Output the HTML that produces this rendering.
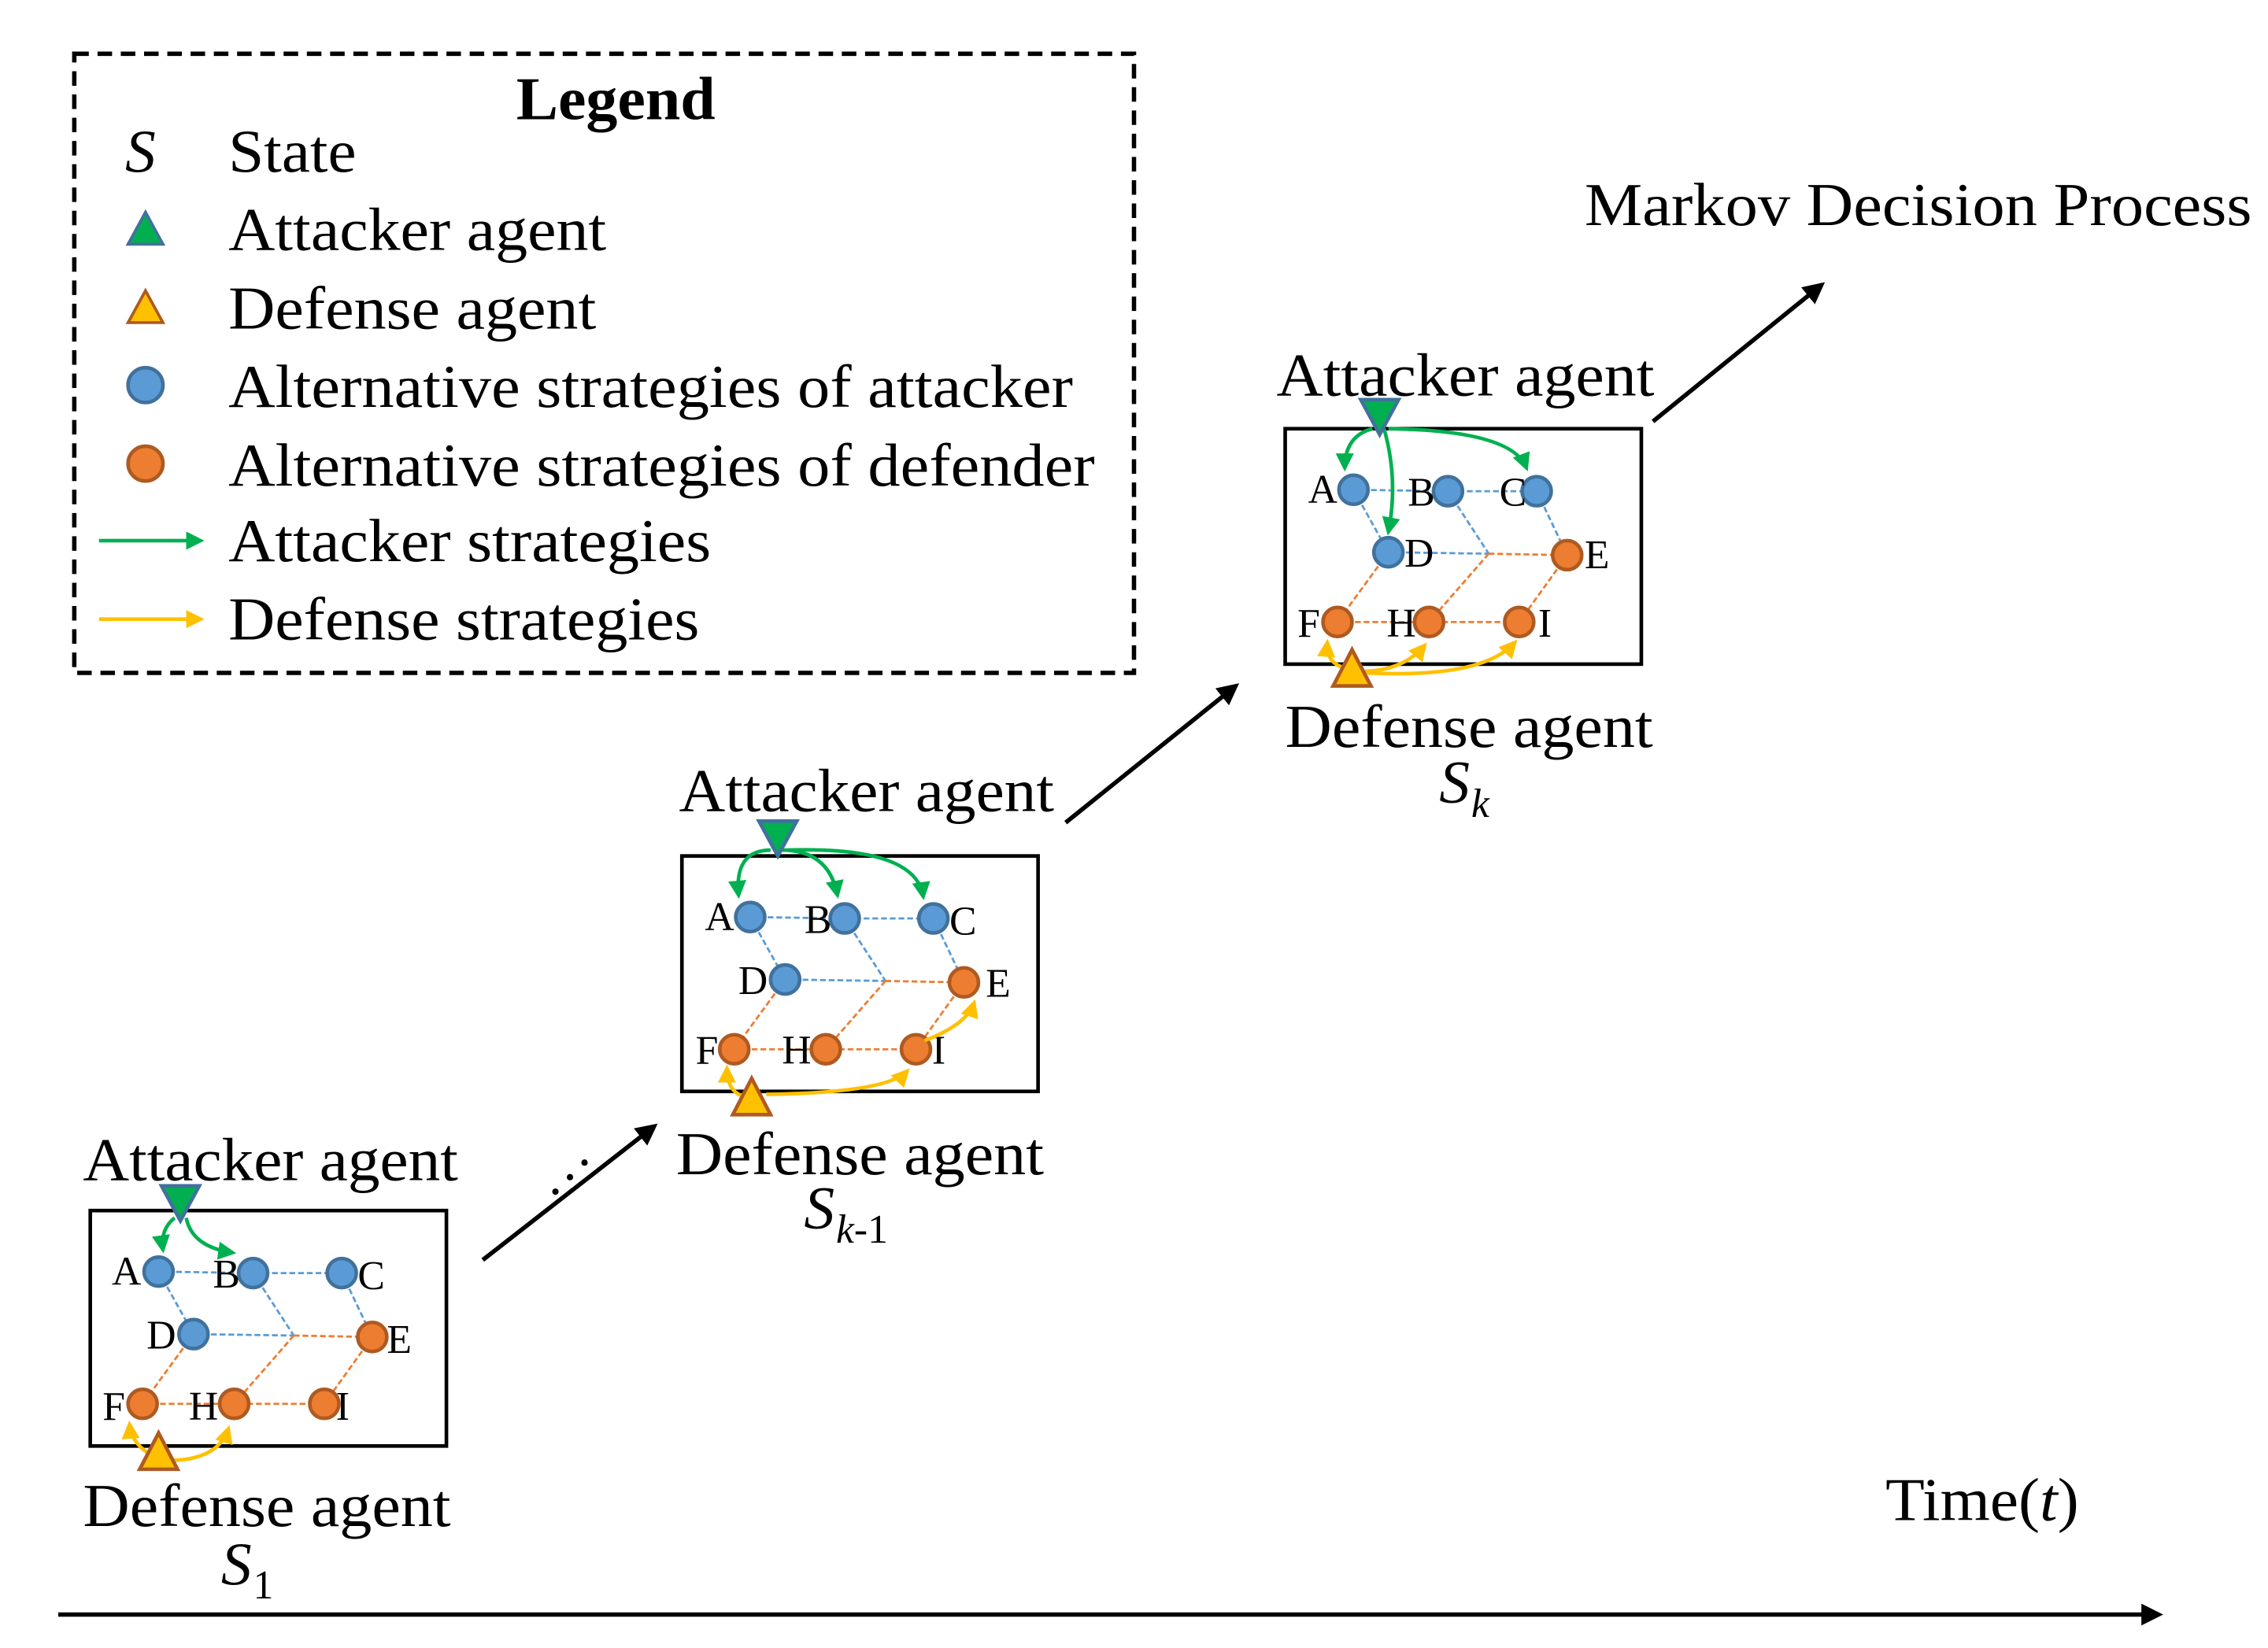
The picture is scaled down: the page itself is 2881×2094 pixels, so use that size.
<!DOCTYPE html>
<html><head><meta charset="utf-8"><style>
html,body{margin:0;padding:0;background:#fff;}
svg{display:block;}
text{font-family:"Liberation Serif",serif;fill:#000;}
</style></head><body>
<svg width="2881" height="2094" viewBox="0 0 1560 1134" xmlns="http://www.w3.org/2000/svg">
<defs>
<marker id="ag" viewBox="0 0 10 10" refX="8" refY="5" markerWidth="5" markerHeight="5" orient="auto"><path d="M0,0 L10,5 L0,10 z" fill="#00B050"/></marker>
<marker id="ay" viewBox="0 0 10 10" refX="8" refY="5" markerWidth="5" markerHeight="5" orient="auto"><path d="M0,0 L10,5 L0,10 z" fill="#FFC000"/></marker>
<marker id="ak" viewBox="0 0 10 10" refX="8" refY="5" markerWidth="5" markerHeight="5" orient="auto"><path d="M0,0 L10,5 L0,10 z" fill="#000"/></marker>
<g id="graph">
<rect x="0" y="0" width="245" height="162" fill="none" stroke="#000" stroke-width="2.5"/>
<g stroke="#5B9BD5" stroke-width="1.5" stroke-dasharray="4,2" fill="none">
<path d="M47,42 L112,43 L173,43"/><path d="M47,42 L71,85"/><path d="M112,43 L140,86"/><path d="M173,43 L194,87"/><path d="M71,85 L140,86"/>
</g>
<g stroke="#ED7D31" stroke-width="1.5" stroke-dasharray="4,2" fill="none">
<path d="M140,86 L194,87"/><path d="M71,85 L36,133"/><path d="M140,86 L99,133"/><path d="M194,87 L161,133"/><path d="M36,133 L99,133 L161,133"/>
</g>
<g fill="#5B9BD5" stroke="#41719C" stroke-width="2.5">
<circle cx="47" cy="42" r="10"/><circle cx="112" cy="43" r="10"/><circle cx="173" cy="43" r="10"/><circle cx="71" cy="85" r="10"/>
</g>
<g fill="#ED7D31" stroke="#AE5A21" stroke-width="2.5">
<circle cx="194" cy="87" r="10"/><circle cx="36" cy="133" r="10"/><circle cx="99" cy="133" r="10"/><circle cx="161" cy="133" r="10"/>
</g>
</g>
</defs>

<!-- Legend -->
<rect x="51" y="37" width="729" height="426" fill="none" stroke="#000" stroke-width="3" stroke-dasharray="10,6"/>
<text x="355" y="82" font-size="42" font-weight="bold" textLength="137" lengthAdjust="spacingAndGlyphs">Legend</text>
<text x="86" y="118" font-size="42" font-style="italic">S</text>
<text x="157" y="118" font-size="42" textLength="88" lengthAdjust="spacingAndGlyphs">State</text>
<polygon points="100,146 88,168 112,168" fill="#00B050" stroke="#41719C" stroke-width="2"/>
<text x="157" y="172" font-size="42" textLength="260" lengthAdjust="spacingAndGlyphs">Attacker agent</text>
<polygon points="100,200 88,222 112,222" fill="#FFC000" stroke="#AE5A21" stroke-width="2"/>
<text x="157" y="226" font-size="42" textLength="253" lengthAdjust="spacingAndGlyphs">Defense agent</text>
<circle cx="100" cy="265" r="12" fill="#5B9BD5" stroke="#41719C" stroke-width="2.5"/>
<text x="157" y="280" font-size="42" textLength="581" lengthAdjust="spacingAndGlyphs">Alternative strategies of attacker</text>
<circle cx="100" cy="319" r="12" fill="#ED7D31" stroke="#AE5A21" stroke-width="2.5"/>
<text x="157" y="334" font-size="42" textLength="596" lengthAdjust="spacingAndGlyphs">Alternative strategies of defender</text>
<line x1="68" y1="372" x2="138" y2="372" stroke="#00B050" stroke-width="2.5" marker-end="url(#ag)"/>
<text x="157" y="386" font-size="42" textLength="332" lengthAdjust="spacingAndGlyphs">Attacker strategies</text>
<line x1="68" y1="426" x2="138" y2="426" stroke="#FFC000" stroke-width="2.5" marker-end="url(#ay)"/>
<text x="157" y="440" font-size="42" textLength="324" lengthAdjust="spacingAndGlyphs">Defense strategies</text>

<!-- S1 -->
<use href="#graph" transform="translate(62,833)"/>
<g font-size="28">
<text x="97" y="884" text-anchor="end">A</text><text x="165" y="886" text-anchor="end">B</text><text x="246" y="887">C</text>
<text x="121" y="928" text-anchor="end">D</text><text x="266" y="931">E</text>
<text x="86" y="977" text-anchor="end">F</text><text x="150" y="977" text-anchor="end">H</text><text x="231" y="977">I</text>
</g>
<g fill="none" stroke-width="2.5">
<path d="M120,838 Q110,846 112,860" stroke="#00B050" marker-end="url(#ag)"/>
<path d="M128,838 Q132,858 160,862" stroke="#00B050" marker-end="url(#ag)"/>
<path d="M102,1000 Q90,992 89,980" stroke="#FFC000" marker-end="url(#ay)"/>
<path d="M115,1005 Q150,1005 157,983" stroke="#FFC000" marker-end="url(#ay)"/>
</g>
<polygon points="111,816 137,816 124,840" fill="#00B050" stroke="#41719C" stroke-width="2.5"/>
<polygon points="109,986 96,1011 122,1011" fill="#FFC000" stroke="#AE5A21" stroke-width="2.5"/>
<text x="57" y="812" font-size="42" textLength="258" lengthAdjust="spacingAndGlyphs">Attacker agent</text>
<text x="57" y="1050" font-size="42" textLength="253" lengthAdjust="spacingAndGlyphs">Defense agent</text>
<text x="152" y="1090" font-size="42" font-style="italic">S</text><text x="174" y="1100" font-size="28">1</text>

<!-- Sk-1 -->
<use href="#graph" transform="translate(469,589)"/>
<g font-size="28">
<text x="505" y="640" text-anchor="end">A</text><text x="572" y="642" text-anchor="end">B</text><text x="653" y="643">C</text>
<text x="528" y="684" text-anchor="end">D</text><text x="678" y="686">E</text>
<text x="494" y="732" text-anchor="end">F</text><text x="558" y="732" text-anchor="end">H</text><text x="641" y="732">I</text>
</g>
<g fill="none" stroke-width="2.5">
<path d="M530,585 Q505,585 508,616" stroke="#00B050" marker-end="url(#ag)"/>
<path d="M538,585 Q570,585 576,616" stroke="#00B050" marker-end="url(#ag)"/>
<path d="M541,585 Q630,582 635,617" stroke="#00B050" marker-end="url(#ag)"/>
<path d="M510,754 Q500,750 500,735" stroke="#FFC000" marker-end="url(#ay)"/>
<path d="M527,753 Q610,752 624,737" stroke="#FFC000" marker-end="url(#ay)"/>
<path d="M636,716 Q665,705 670,690" stroke="#FFC000" marker-end="url(#ay)"/>
</g>
<polygon points="522,565 548,565 535,589" fill="#00B050" stroke="#41719C" stroke-width="2.5"/>
<polygon points="517,742 504,767 530,767" fill="#FFC000" stroke="#AE5A21" stroke-width="2.5"/>
<text x="467" y="558" font-size="42" textLength="258" lengthAdjust="spacingAndGlyphs">Attacker agent</text>
<text x="465" y="808" font-size="42" textLength="253" lengthAdjust="spacingAndGlyphs">Defense agent</text>
<text x="553" y="845" font-size="42" font-style="italic">S</text><text x="575" y="855" font-size="28"><tspan font-style="italic">k</tspan>-1</text>

<!-- Sk -->
<use href="#graph" transform="translate(884,295)"/>
<g font-size="28">
<text x="920" y="346" text-anchor="end">A</text><text x="987" y="348" text-anchor="end">B</text><text x="1050" y="348" text-anchor="end">C</text>
<text x="966" y="390">D</text><text x="1090" y="391">E</text>
<text x="908" y="438" text-anchor="end">F</text><text x="974" y="438" text-anchor="end">H</text><text x="1058" y="438">I</text>
</g>
<g fill="none" stroke-width="2.5">
<path d="M944,295 Q925,300 925,322" stroke="#00B050" marker-end="url(#ag)"/>
<path d="M952,295 Q962,330 955,366" stroke="#00B050" marker-end="url(#ag)"/>
<path d="M955,295 Q1040,296 1050,322" stroke="#00B050" marker-end="url(#ag)"/>
<path d="M923,459 Q912,455 913,442" stroke="#FFC000" marker-end="url(#ay)"/>
<path d="M936,462 Q965,462 980,444" stroke="#FFC000" marker-end="url(#ay)"/>
<path d="M940,463 Q1020,467 1042,442" stroke="#FFC000" marker-end="url(#ay)"/>
</g>
<polygon points="936,275 962,275 949,299" fill="#00B050" stroke="#41719C" stroke-width="2.5"/>
<polygon points="930,447 917,472 943,472" fill="#FFC000" stroke="#AE5A21" stroke-width="2.5"/>
<text x="878" y="272" font-size="42" textLength="260" lengthAdjust="spacingAndGlyphs">Attacker agent</text>
<text x="884" y="514" font-size="42" textLength="253" lengthAdjust="spacingAndGlyphs">Defense agent</text>
<text x="990" y="552" font-size="42" font-style="italic">S</text><text x="1012" y="562" font-size="28" font-style="italic">k</text>

<!-- transitions -->
<g stroke="#000" stroke-width="3" fill="none">
<line x1="332" y1="867" x2="450" y2="775" marker-end="url(#ak)"/>
<line x1="733" y1="566" x2="850" y2="472" marker-end="url(#ak)"/>
<line x1="1137" y1="290" x2="1253" y2="196" marker-end="url(#ak)"/>
<line x1="40" y1="1111" x2="1485" y2="1111" marker-end="url(#ak)"/>
</g>
<g fill="#000"><circle cx="382" cy="820" r="2.2"/><circle cx="392" cy="810" r="2.2"/><circle cx="402" cy="800" r="2.2"/></g>
<text x="1090" y="155" font-size="42" textLength="459" lengthAdjust="spacingAndGlyphs">Markov Decision Process</text>
<text x="1297" y="1046" font-size="42" textLength="133" lengthAdjust="spacingAndGlyphs">Time(<tspan font-style="italic">t</tspan>)</text>
</svg>
</body></html>
